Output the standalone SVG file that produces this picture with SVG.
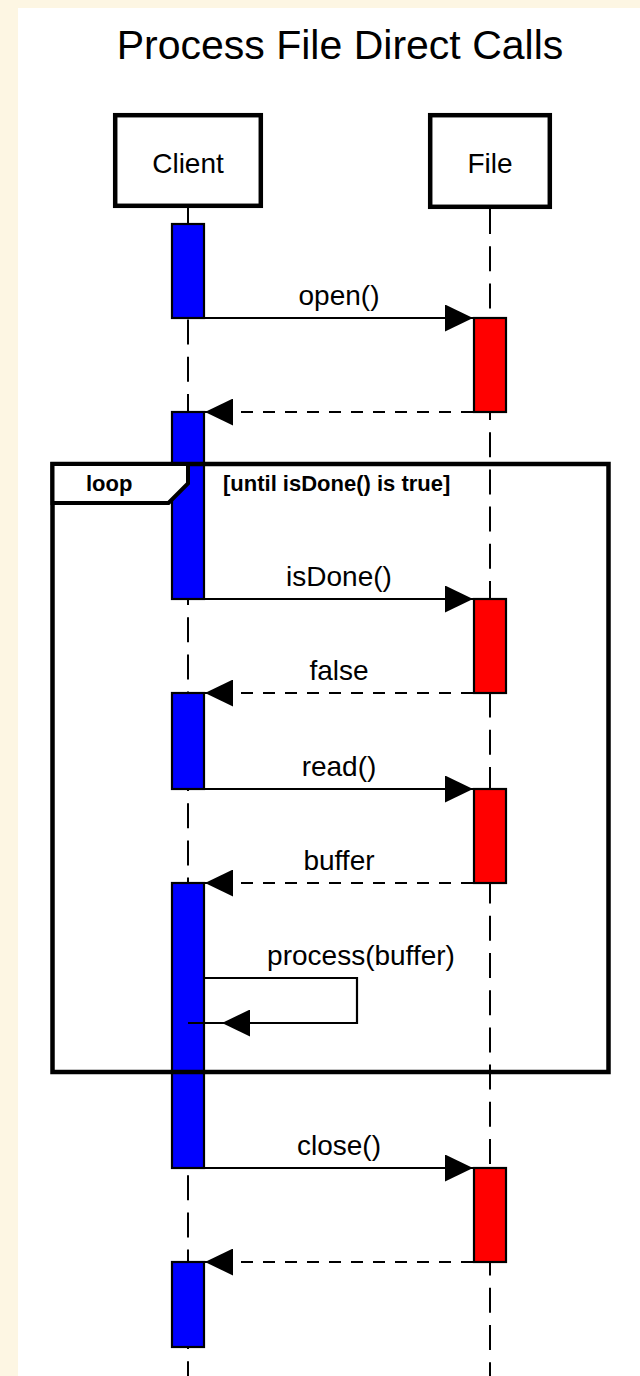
<svg xmlns="http://www.w3.org/2000/svg" width="640" height="1376" viewBox="0 0 640 1376">
  <defs>
    <style>
      .txt { font-family: "Liberation Sans", Arial, sans-serif; fill: #000; }
      .title { font-size: 41px; text-anchor: middle; }
      .name { font-size: 28px; text-anchor: middle; }
      .msg { font-size: 28px; text-anchor: middle; }
      .frame-txt { font-size: 22px; font-weight: bold; }
      .box { fill: #fff; stroke: #000; stroke-width: 4.5; }
      .life { stroke: #000; stroke-width: 2; stroke-dasharray: 25 12.2; fill: none; }
      .life-solid { stroke: #000; stroke-width: 2; }
      .act-c { fill: #0000ff; stroke: #000; stroke-width: 2.2; }
      .act-f { fill: #ff0000; stroke: #000; stroke-width: 2.2; }
      .call { stroke: #000; stroke-width: 2.2; fill: none; marker-end: url(#head); }
      .ret { stroke: #000; stroke-width: 2.2; fill: none; stroke-dasharray: 12 10; marker-end: url(#head); }
      .frame { fill: none; stroke: #000; stroke-width: 4.5; }
      .tab { fill: #fff; stroke: #000; stroke-width: 4; stroke-linejoin: miter; }
    </style>
    <marker id="head" markerUnits="userSpaceOnUse" markerWidth="28" markerHeight="27" refX="28" refY="13.5" orient="auto" viewBox="0 0 28 27">
      <path d="M0,0 L28,13.5 L0,27 Z" fill="#000"/>
    </marker>
  </defs>

  <!-- page -->
  <rect x="0" y="0" width="640" height="1376" fill="#fdf6e3"/>
  <rect x="18" y="8" width="622" height="1368" fill="#fff"/>

  <text class="txt title" x="340" y="59">Process File Direct Calls</text>

  <!-- participant: Client -->
  <g id="client">
    <line class="life" x1="188" y1="208" x2="188" y2="1376"/>
    <rect class="box" x="115.2" y="115.2" width="145.6" height="90.6"/>
    <text class="txt name" x="188" y="173">Client</text>
    <rect class="act-c" x="172" y="224" width="32" height="94"/>
    <rect class="act-c" x="172" y="412" width="32" height="187"/>
    <rect class="act-c" x="172" y="693" width="32" height="96"/>
    <rect class="act-c" x="172" y="883" width="32" height="285"/>
    <rect class="act-c" x="172" y="1262" width="32" height="85"/>
  </g>

  <!-- participant: File -->
  <g id="file">
    <line class="life" x1="490" y1="209" x2="490" y2="1376"/>
    <rect class="box" x="430.2" y="115.2" width="119.6" height="91.6"/>
    <text class="txt name" x="490" y="173">File</text>
    <rect class="act-f" x="474" y="318" width="32" height="94"/>
    <rect class="act-f" x="474" y="599" width="32" height="94"/>
    <rect class="act-f" x="474" y="789" width="32" height="94"/>
    <rect class="act-f" x="474" y="1168" width="32" height="94"/>
  </g>

  <!-- messages -->
  <g id="connectors">
    <line class="call" x1="205" y1="318" x2="473" y2="318"/>
    <line class="ret" x1="473" y1="412" x2="205" y2="412"/>
    <line class="call" x1="205" y1="599" x2="473" y2="599"/>
    <line class="ret" x1="473" y1="693" x2="205" y2="693"/>
    <line class="call" x1="205" y1="789" x2="473" y2="789"/>
    <line class="ret" x1="473" y1="883" x2="205" y2="883"/>
    <path class="call" d="M205,978 H357 V1023 H222"/>
    <line class="life-solid" x1="188" y1="1023" x2="224" y2="1023"/>
    <line class="call" x1="205" y1="1168" x2="473" y2="1168"/>
    <line class="ret" x1="473" y1="1262" x2="205" y2="1262"/>
  </g>

  <!-- message labels -->
  <g id="labels">
    <text class="txt msg" x="339" y="305">open()</text>
    <text class="txt msg" x="339" y="586">isDone()</text>
    <text class="txt msg" x="339" y="680">false</text>
    <text class="txt msg" x="339" y="776">read()</text>
    <text class="txt msg" x="339" y="870">buffer</text>
    <text class="txt msg" x="361" y="965">process(buffer)</text>
    <text class="txt msg" x="339" y="1155">close()</text>
  </g>

  <!-- combined fragment: loop -->
  <g id="loop">
    <rect class="frame" x="52.5" y="464" width="556" height="608"/>
    <path class="tab" d="M52.5,464 H188 V483.5 L168.5,503 H52.5 Z"/>
    <text class="txt frame-txt" x="86" y="491">loop</text>
    <text class="txt frame-txt" x="223" y="491">[until isDone() is true]</text>
  </g>
</svg>
